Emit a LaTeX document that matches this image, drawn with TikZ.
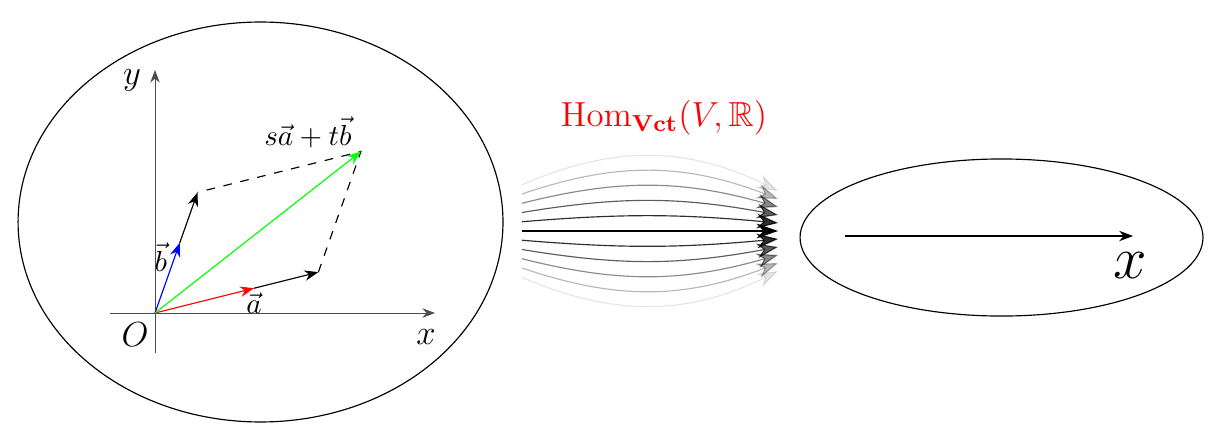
\documentclass[tikz,border=0pt]{standalone}
\usepackage{amsmath,amssymb}
\usetikzlibrary{arrows.meta,calc}

\begin{document}
\begin{tikzpicture}[
    vec/.style={-Stealth},
    axis/.style={-Stealth,draw=black!70,line width=0.3pt},
    lab/.style={text=black,inner sep=1.5pt},
    fan/.style={-{Stealth[length=2.6mm,width=1.8mm]}},
]

\def\S{1.65}    %scale of a
\def\T{1.72}    %scale of b
\def\N{5}       %curves on each side of the middle one

\useasboundingbox (-1.879,-1.491) rectangle (12.885,3.794);

% vector space V
\draw (1.279,1.103) ellipse (2.939 and 2.424);
\coordinate (O) at (0,0);
\coordinate (xs) at (-0.545,0);
\coordinate (xe) at (3.394,0);
\coordinate (ys) at (0,-0.485);
\coordinate (ye) at (0,2.945);
\draw[axis] (xs) -- (xe);
\draw[axis] (ys) -- (ye);
\node[font=\large] (xlab) at (3.285,-0.291) {$x$};
\node[font=\large] (ylab) at (-0.279,2.824) {$y$};
\node[font=\large] (olab) at (-0.242,-0.267) {$O$};

\coordinate (A) at (1.2,0.3);
\coordinate (B) at (0.3,0.85);
\coordinate (SA) at ($\S*(A)$);
\coordinate (TB) at ($\T*(B)$);
\coordinate (C) at ($(SA)+(TB)$);

\draw[vec] (A) -- (SA);
\draw[vec] (B) -- (TB);
\draw[dashed] (SA) -- (C) -- (TB);
\draw[vec,red] (O) -- (A) node[lab,below] (alab) {$\vec{a}$};
\draw[vec,blue] (O) -- (B) node[lab,pos=0.8,left,inner sep=2.5pt] (blab) {$\vec{b}$};
\draw[vec,green] (O) -- (C) node[lab,anchor=south east,inner sep=1pt,xshift=-2pt] (clab) {$s\vec{a}+t\vec{b}$};

% the maps
\node[red,font=\large] (hom) at (6.170,2.364) {$\mathrm{Hom}_{\mathbf{Vct}}(V,\mathbb{R})$};
\foreach \i in {-\N,...,\N}{
    \pgfmathsetmacro\op{1-0.18*abs(\i)}
    \pgfmathsetmacro\bd{5*\i}
    \coordinate (L\i) at (4.448,{0.994+0.112*\i});
    \coordinate (R\i) at (7.552,{0.994+0.097*\i});
    \draw[fan,opacity=\op] (L\i) to[bend left=\bd] (R\i);
}

% the line R
\draw (10.261,0.915) ellipse (2.442 and 0.952);
\coordinate (rs) at (8.364,0.933);
\coordinate (re) at (11.855,0.933);
\draw[vec] (rs) -- (re);
\node[font=\huge] (rlab) at (11.82,0.58) {$x$};

\end{tikzpicture}
\end{document}
